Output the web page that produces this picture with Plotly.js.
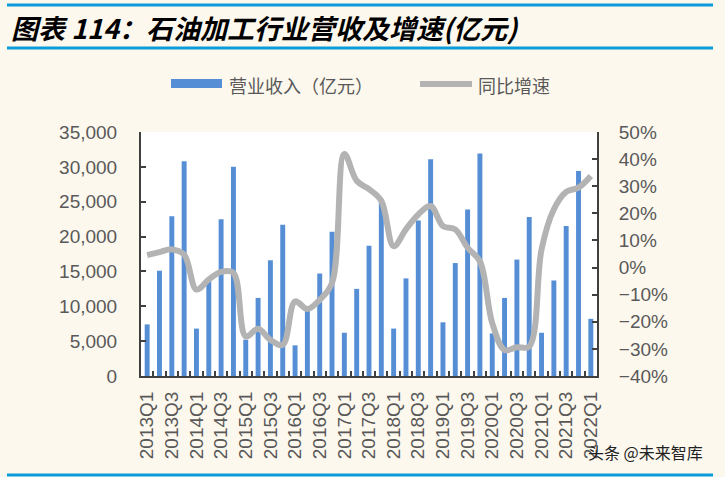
<!DOCTYPE html>
<html>
<head>
<meta charset="utf-8">
<script src="https://cdn.plot.ly/plotly-3.0.1.min.js"></script>
<style>
html,body{margin:0;padding:0;background:#FDF8EE;}
#chart{width:725px;height:477px;}
</style>
</head>
<body>
<div id="chart"></div>
<script>
const quarters = ["2013Q1","2013Q2","2013Q3","2013Q4","2014Q1","2014Q2","2014Q3","2014Q4",
"2015Q1","2015Q2","2015Q3","2015Q4","2016Q1","2016Q2","2016Q3","2016Q4",
"2017Q1","2017Q2","2017Q3","2017Q4","2018Q1","2018Q2","2018Q3","2018Q4",
"2019Q1","2019Q2","2019Q3","2019Q4","2020Q1","2020Q2","2020Q3","2020Q4",
"2021Q1","2021Q2","2021Q3","2021Q4","2022Q1"];
const revenue = [7400,15100,22900,30800,6800,14000,22500,30000,
5200,11200,16600,21700,4400,9800,14700,20700,
6200,12500,18700,25400,6800,14000,22300,31100,
7700,16200,23900,31900,6100,11200,16700,22800,
6200,13700,21500,29400,8200];
const growth = [4.6,5.7,6.7,4.8,-8.1,-4.4,-1.6,-2.0,
-25.4,-22.6,-26.7,-28.5,-12.5,-15.3,-11.9,-5.7,
41.9,32.0,28.9,24.6,7.9,14.1,19.6,22.7,
15.3,14.1,7.3,2.3,-20.5,-30.4,-29.4,-29.1,
6.7,21.5,27.9,29.5,33.8];
const tickLabels = quarters.map((q,i)=> i%2===0 ? q : "");
const seriesNames = ["营业收入（亿元）","同比增速"];
const titleText = "图表 114：石油加工行业营收及增速(亿元)";
const watermark = "头条 @未来智库";

// plot area in pixels
const L=141, R=597, T=132, B=376;
const px = x => (x-L)/(R-L);
const py = y => (B-y)/(B-T);

const gray = "#595959";
const blue = "#558ED5";
const lineGray = "#B3B3B3";
const font = "Liberation Sans, Arial, sans-serif";
const cjk = "Noto Sans CJK SC, sans-serif";

const traces = [
 {type:"bar", x:quarters, y:revenue, name:seriesNames[0], marker:{color:blue}, yaxis:"y", showlegend:false},
 {type:"scatter", mode:"lines", x:quarters, y:growth, name:seriesNames[1], yaxis:"y2",
  line:{color:lineGray, width:6, shape:"spline", smoothing:1}, showlegend:false}
];

const layout = {
 width:725, height:477,
 paper_bgcolor:"#FDF8EE", plot_bgcolor:"#FFFFFF",
 margin:{l:L, r:725-R, t:T, b:477-B, pad:0},
 bargap:0.6,
 showlegend:false,
 xaxis:{type:"category", tickmode:"array", tickvals:quarters, ticktext:tickLabels,
  tickson:"boundaries", ticks:"inside", ticklen:5, tickwidth:2, tickcolor:"#404040",
  tickangle:-90, tickfont:{family:font, size:19, color:gray},
  showline:true, linecolor:"#404040", linewidth:2, showgrid:false, zeroline:false,
  ticklabelstandoff:6, range:[-0.5, quarters.length-0.5]},
 yaxis:{range:[0,35000], dtick:5000, tick0:0, tickformat:",d",
  ticks:"inside", ticklen:5, tickwidth:2, tickcolor:"#404040",
  showline:true, linecolor:"#404040", linewidth:2, showgrid:false, zeroline:false,
  tickfont:{family:font, size:19, color:gray}, ticklabelstandoff:18},
 yaxis2:{range:[-40,50], dtick:10, tick0:0, ticksuffix:"%", overlaying:"y", side:"right",
  ticks:"inside", ticklen:5, tickwidth:2, tickcolor:"#404040",
  showline:true, linecolor:"#404040", linewidth:2, showgrid:false, zeroline:false,
  tickfont:{family:font, size:19, color:gray}, ticklabelstandoff:16},
 shapes:[
  {type:"line", xref:"paper", yref:"paper", x0:px(7), x1:px(713), y0:py(5), y1:py(5), line:{color:"#0A9BDB", width:3}},
  {type:"line", xref:"paper", yref:"paper", x0:px(7), x1:px(713), y0:py(48), y1:py(48), line:{color:"#0A9BDB", width:3}},
  {type:"line", xref:"paper", yref:"paper", x0:px(7), x1:px(713), y0:py(475), y1:py(475), line:{color:"#0A9BDB", width:3}},
  {type:"rect", xref:"paper", yref:"paper", x0:px(171), x1:px(222), y0:py(79), y1:py(88), fillcolor:blue, line:{width:0}},
  {type:"line", xref:"paper", yref:"paper", x0:px(420), x1:px(472), y0:py(84), y1:py(84), line:{color:lineGray, width:6}}
 ],
 annotations:[
  {text:"<b><i>"+titleText+"</i></b>", xref:"paper", yref:"paper", x:px(9), y:py(27), xanchor:"left", yanchor:"middle",
   showarrow:false, font:{family:cjk, size:27, color:"#000000"}},
  {text:seriesNames[0], xref:"paper", yref:"paper", x:px(227), y:py(85), xanchor:"left", yanchor:"middle",
   showarrow:false, font:{family:cjk, size:18, color:gray}},
  {text:seriesNames[1], xref:"paper", yref:"paper", x:px(476), y:py(85), xanchor:"left", yanchor:"middle",
   showarrow:false, font:{family:cjk, size:18, color:gray}},
  {text:watermark, xref:"paper", yref:"paper", x:px(705), y:py(452), xanchor:"right", yanchor:"middle",
   showarrow:false, font:{family:cjk, size:16, color:"#222222"}}
 ]
};

Plotly.newPlot("chart", traces, layout, {staticPlot:true, displayModeBar:false});
</script>
</body>
</html>
